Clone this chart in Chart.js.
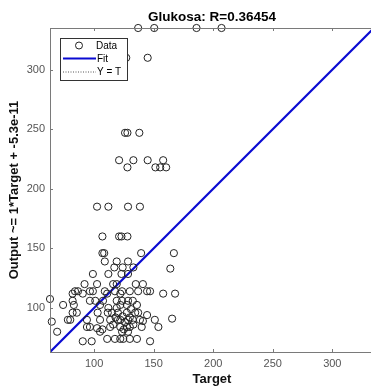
<!DOCTYPE html>
<html>
<head>
<meta charset="utf-8">
<script src="https://cdn.jsdelivr.net/npm/chart.js@4"></script>
<style>
    body { margin: 0; overflow: hidden; background: #fff; }
    #wrap { position: absolute; left: 0; top: 0; width: 380px; height: 387px; }
</style>
</head>
<body>
<div id="wrap"><canvas id="chart" width="380" height="387"></canvas></div>
<script>
// Chart data
const chartTitle = 'Glukosa: R=0.36454';
const xLabel = 'Target';
const yLabel = 'Output ~= 1*Target + -5.3e-11';
const axisMin = 63;
const axisMax = 335;
const tickVals = [100, 150, 200, 250, 300];

// measured targets (x) and network outputs (y)
const target = [137, 150.5, 186, 207, 127, 145, 126, 128, 138, 121, 133, 145, 158, 128, 151.5, 155.5, 160.5,
    102.5, 112, 128.5, 138.5, 107, 121, 123, 128, 107, 108.5, 139.5, 167, 109, 119, 128.5, 117, 124, 133, 164,
    99, 112, 123, 128.5, 92, 102.5, 116, 119, 135, 141,
    84, 86.5, 96.5, 99, 109, 117.5, 123.5, 130, 137, 144.5, 147,
    82, 90.5, 111, 122, 158, 168,
    63, 64.5, 69,
    82, 96.5, 101, 107.5, 119, 123.5, 128.5, 132.5,
    74, 83, 105, 122, 127.5, 136,
    82, 85.5, 103, 111.5, 115, 120, 127.5, 134.5, 137, 144.5,
    78, 80, 94, 105, 113.5, 120, 122, 128.5, 132.5, 138.5, 141, 151, 165.5,
    94, 96.5, 113.5, 122, 127.5, 130, 140, 154, 102.5, 107,
    105, 123.5, 128.5,
    90.5, 98, 111, 117.5, 122, 124.5, 130, 136, 147,
    118, 124, 126, 130, 116, 125, 133, 119, 131, 112];
const output = [335, 335, 335, 335, 310, 310, 247, 247, 247, 224, 224, 224, 224, 218, 218, 218, 218,
    185, 185, 185, 185, 160, 160, 160, 160, 146, 146, 146, 146, 139, 139, 139, 134, 134, 134, 133,
    128.5, 128.5, 128.5, 128.5, 120, 120, 120, 120, 120, 120,
    114, 114, 114, 114, 114, 114, 114, 114, 114, 114, 114,
    112, 112, 112, 112, 112, 112,
    107.5, 88.5, 80,
    106, 106, 106, 106, 106, 106, 106, 106,
    102.5, 102.5, 102.5, 102.5, 102.5, 102.5,
    96, 96, 96, 96, 96, 96, 96, 96, 96, 94,
    90, 90, 90, 90, 90, 90, 90, 90, 90, 90, 89, 90, 91,
    84, 84, 84, 84, 84, 84, 84, 84, 83, 82,
    80, 80, 80,
    72, 72, 74, 74, 74, 74, 74, 74, 72,
    92, 93, 88, 92, 86, 82, 86, 100, 99, 100];

const fitColor = '#0a0ad2';
const axisColor = '#7a7a7a';
const font = "'Liberation Sans', Arial, sans-serif";

const points = target.map((t, i) => ({ x: t, y: output[i] }));
const idLine = [{ x: axisMin, y: axisMin }, { x: axisMax, y: axisMax }];

// box, inward ticks, title and legend in MATLAB style
const matlabDecor = {
    id: 'matlabDecor',
    afterDraw(chart) {
        const { ctx, chartArea: a, scales } = chart;
        ctx.save();
        ctx.strokeStyle = axisColor;
        ctx.lineWidth = 1;
        ctx.strokeRect(a.left + 0.5, a.top + 0.5, a.right - a.left, a.bottom - a.top);
        ctx.beginPath();
        tickVals.forEach(v => {
            const px = Math.round(scales.x.getPixelForValue(v)) + 0.5;
            ctx.moveTo(px, a.bottom); ctx.lineTo(px, a.bottom - 3);
            ctx.moveTo(px, a.top); ctx.lineTo(px, a.top + 3);
            const py = Math.round(scales.y.getPixelForValue(v)) + 0.5;
            ctx.moveTo(a.left, py); ctx.lineTo(a.left + 3, py);
            ctx.moveTo(a.right, py); ctx.lineTo(a.right - 3, py);
        });
        ctx.stroke();

        // title
        ctx.fillStyle = '#000';
        ctx.font = 'bold 13.5px ' + font;
        ctx.textAlign = 'center';
        ctx.textBaseline = 'middle';
        ctx.fillText(chartTitle, (a.left + a.right) / 2, 17);

        // legend
        const lx = a.left + 10, ly = a.top + 10, lw = 67, lh = 42;
        ctx.fillStyle = '#fff';
        ctx.fillRect(lx, ly, lw, lh);
        ctx.strokeStyle = '#333';
        ctx.strokeRect(lx + 0.5, ly + 0.5, lw, lh);
        ctx.textAlign = 'left';
        ctx.font = '10px ' + font;
        ctx.fillStyle = '#000';
        // Data
        ctx.beginPath();
        ctx.strokeStyle = '#222';
        ctx.arc(lx + 19, ly + 7.5, 3.5, 0, Math.PI * 2);
        ctx.stroke();
        ctx.fillText('Data', lx + 36, ly + 8);
        // Fit
        ctx.beginPath();
        ctx.strokeStyle = fitColor;
        ctx.lineWidth = 2;
        ctx.moveTo(lx + 3, ly + 20.5); ctx.lineTo(lx + 36, ly + 20.5);
        ctx.stroke();
        ctx.fillText('Fit', lx + 37, ly + 21);
        // Y = T
        ctx.beginPath();
        ctx.strokeStyle = '#555';
        ctx.lineWidth = 1;
        ctx.setLineDash([1, 1.5]);
        ctx.moveTo(lx + 3, ly + 34); ctx.lineTo(lx + 36, ly + 34);
        ctx.stroke();
        ctx.setLineDash([]);
        ctx.fillText('Y = T', lx + 37, ly + 34.5);
        ctx.restore();
    }
};

const setTicks = scale => { scale.ticks = tickVals.map(v => ({ value: v })); };

new Chart(document.getElementById('chart'), {
    type: 'scatter',
    data: {
        datasets: [
            {
                label: 'Y = T',
                type: 'line',
                data: idLine,
                borderColor: '#666',
                borderWidth: 1,
                borderDash: [1, 1.5],
                pointRadius: 0,
                order: 3
            },
            {
                label: 'Fit',
                type: 'line',
                data: idLine,
                borderColor: fitColor,
                borderWidth: 2.2,
                pointRadius: 0,
                order: 2
            },
            {
                label: 'Data',
                data: points,
                pointStyle: 'circle',
                pointRadius: 3.6,
                borderWidth: 1,
                borderColor: '#222',
                backgroundColor: 'rgba(0,0,0,0)',
                clip: false,
                order: 1
            }
        ]
    },
    options: {
        responsive: false,
        animation: false,
        devicePixelRatio: 1,
        layout: { padding: { top: 28, right: 6, left: 0, bottom: 0 } },
        plugins: {
            legend: { display: false },
            tooltip: { enabled: false }
        },
        scales: {
            x: {
                type: 'linear',
                min: axisMin,
                max: axisMax,
                afterBuildTicks: setTicks,
                afterFit: s => { s.height = 35; },
                grid: { display: false, drawTicks: false },
                border: { display: false },
                ticks: { color: '#555', padding: 5, font: { family: font, size: 11 } },
                title: {
                    display: true,
                    text: xLabel,
                    color: '#111',
                    padding: { top: 0, bottom: 0 },
                    font: { family: font, size: 13, weight: 'bold' }
                }
            },
            y: {
                type: 'linear',
                min: axisMin,
                max: axisMax,
                afterBuildTicks: setTicks,
                afterFit: s => { s.width = 50; },
                grid: { display: false, drawTicks: false },
                border: { display: false },
                ticks: { color: '#555', padding: 5, font: { family: font, size: 11 } },
                title: {
                    display: true,
                    text: yLabel,
                    color: '#111',
                    padding: { top: 7, bottom: 0 },
                    font: { family: font, size: 13, weight: 'bold' }
                }
            }
        }
    },
    plugins: [matlabDecor]
});
</script>
</body>
</html>
